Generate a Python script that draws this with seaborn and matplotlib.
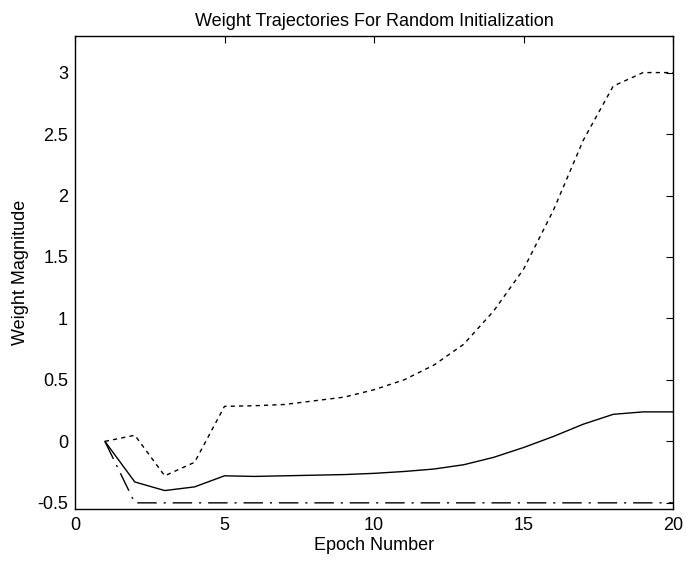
import matplotlib
matplotlib.use("Agg")
import matplotlib.pyplot as plt
import seaborn as sns
import pandas as pd

epochs = list(range(1, 21))
weight_dotted = [0.0, 0.05, -0.28, -0.17, 0.285, 0.29, 0.30, 0.33, 0.36, 0.42,
                 0.50, 0.62, 0.79, 1.06, 1.40, 1.88, 2.45, 2.89, 3.0, 3.0]
weight_solid = [0.0, -0.33, -0.40, -0.37, -0.28, -0.285, -0.28, -0.275, -0.27, -0.26,
                -0.245, -0.225, -0.19, -0.13, -0.05, 0.04, 0.14, 0.22, 0.24, 0.24]
weight_dashdot = [0.0, -0.5, -0.5, -0.5, -0.5, -0.5, -0.5, -0.5, -0.5, -0.5,
                  -0.5, -0.5, -0.5, -0.5, -0.5, -0.5, -0.5, -0.5, -0.5, -0.5]
series_names = ["w1", "w2", "w3"]

df = pd.concat([
    pd.DataFrame({"Epoch": epochs, "Weight": weight_dotted, "series": series_names[0]}),
    pd.DataFrame({"Epoch": epochs, "Weight": weight_solid, "series": series_names[1]}),
    pd.DataFrame({"Epoch": epochs, "Weight": weight_dashdot, "series": series_names[2]}),
])

sns.set_theme(style="white")
plt.rcParams["font.family"] = ["Liberation Sans", "DejaVu Sans"]
plt.rcParams["text.color"] = "black"
plt.rcParams["axes.labelcolor"] = "black"

fig = plt.figure(figsize=(6.86, 5.67), dpi=100)
ax = fig.add_axes([75/686, 1 - 509/567, (673 - 75)/686, (509 - 35.7)/567])

sns.lineplot(data=df, x="Epoch", y="Weight", hue="series", style="series",
             palette={n: "black" for n in series_names},
             dashes={series_names[0]: (3, 3), series_names[1]: "",
                     series_names[2]: (14, 5, 1.5, 5)},
             linewidth=1.0, legend=False, ax=ax, estimator=None, sort=False)

ax.set_xlim(0, 20)
ax.set_ylim(-0.55, 3.3)
ax.set_xticks([0, 5, 10, 15, 20])
ax.set_yticks([-0.5, 0, 0.5, 1, 1.5, 2, 2.5, 3])
ax.set_yticklabels(["-0.5", "0", "0.5", "1", "1.5", "2", "2.5", "3"])
ax.tick_params(direction="in", length=5, width=0.8, top=True, right=True,
               labelsize=13, colors="black")
ax.tick_params(axis="x", pad=6)
ax.tick_params(axis="y", pad=5)
for s in ax.spines.values():
    s.set_visible(True)
    s.set_color("black")
    s.set_linewidth(1.0)
ax.set_facecolor("white")
ax.set_title("Weight Trajectories For Random Initialization", fontsize=13, pad=7,
             color="black")
ax.set_xlabel("Epoch Number", fontsize=13, labelpad=2, color="black")
ax.set_ylabel("Weight Magnitude", fontsize=13, labelpad=6, color="black")

fig.savefig("out.png", dpi=100, facecolor="white")
